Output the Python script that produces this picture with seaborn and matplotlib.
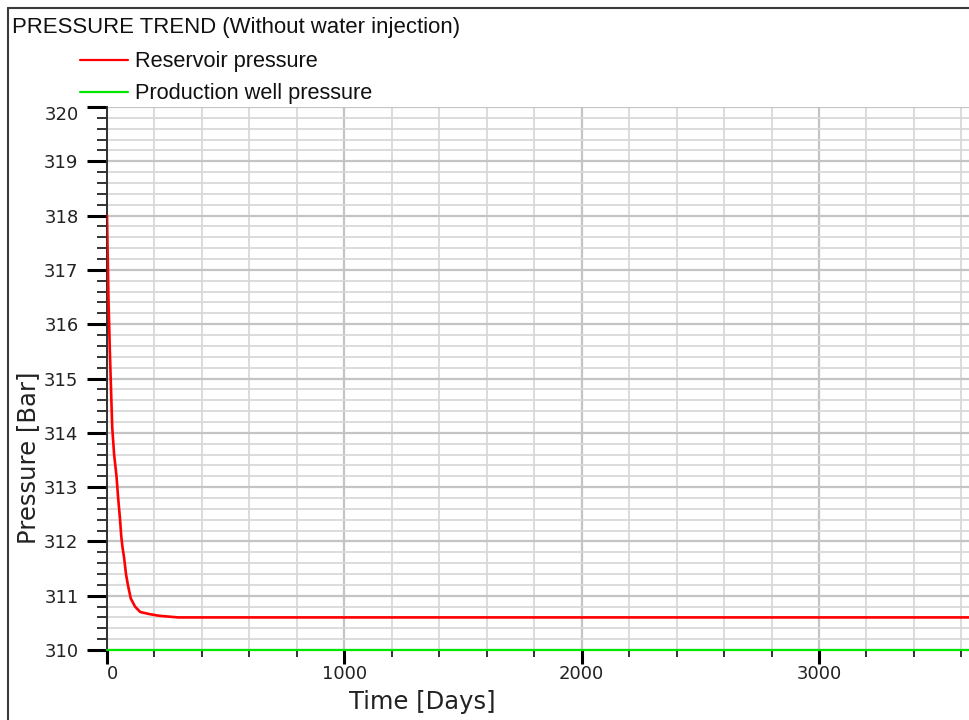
import matplotlib
matplotlib.use("Agg")
import matplotlib.pyplot as plt
import matplotlib.transforms as mtransforms
from matplotlib.lines import Line2D
from matplotlib.ticker import MultipleLocator
import seaborn as sns
import pandas as pd

# ---- data ----
res_days = [0, 6, 12, 17, 22, 30, 40, 47, 55, 60, 65, 72, 80, 88, 100, 118, 140, 180, 220, 300, 3650]
res_pressure = [318.0, 316.5, 315.5, 314.8, 314.1, 313.6, 313.2, 312.8, 312.4, 312.1, 311.9,
                311.7, 311.4, 311.2, 310.95, 310.8, 310.7, 310.66, 310.63, 310.6, 310.6]
prod_days = [0, 3650]
prod_pressure = [310.0, 310.0]

title = "PRESSURE TREND (Without water injection)"
series_names = ["Reservoir pressure", "Production well pressure"]
series_colors = ["#ff0000", "#00e600"]
x_ticks = [0, 1000, 2000, 3000]
y_ticks = [310, 311, 312, 313, 314, 315, 316, 317, 318, 319, 320]

df_res = pd.DataFrame({"Time": res_days, "Pressure": res_pressure})
df_prod = pd.DataFrame({"Time": prod_days, "Pressure": prod_pressure})

sns.set_style("white")
plt.rcParams["font.family"] = ["DejaVu Sans"]

W, H = 969, 720
fig = plt.figure(figsize=(W / 100, H / 100), dpi=100)
left, right, top, bottom = 107, 969, 107, 650
ax = fig.add_axes([left / W, 1 - bottom / H, (right - left) / W, (bottom - top) / H])

sns.lineplot(data=df_res, x="Time", y="Pressure", ax=ax, color=series_colors[0],
             linewidth=1.9, zorder=5, clip_on=True)
sns.lineplot(data=df_prod, x="Time", y="Pressure", ax=ax, color=series_colors[1],
             linewidth=1.6, zorder=6, clip_on=False)

ax.set_xlim(0, 3632)
ax.set_ylim(310, 320)
ax.set_xticks(x_ticks)
ax.set_yticks(y_ticks)
ax.xaxis.set_minor_locator(MultipleLocator(200))
ax.yaxis.set_minor_locator(MultipleLocator(0.2))

ax.grid(which="major", color="#c4c4c4", linewidth=1.6, zorder=0)
ax.grid(which="minor", color="#d9d9d9", linewidth=1.3, zorder=0)
ax.set_axisbelow(True)

for s in ["top", "right"]:
    ax.spines[s].set_visible(False)
for s in ["left", "bottom"]:
    ax.spines[s].set_color("#303030")
    ax.spines[s].set_linewidth(1.4)

ax.tick_params(axis="y", which="major", direction="out", length=14.5, width=2.2,
               color="black", labelsize=13, pad=6, labelcolor="#222222")
ax.tick_params(axis="y", which="minor", direction="out", length=7.2, width=1.4, color="#333333")
ax.tick_params(axis="x", which="major", direction="out", length=10, width=2.2,
               color="black", labelsize=13, pad=1, labelcolor="#222222")
ax.tick_params(axis="x", which="minor", direction="out", length=5, width=1.4, color="#333333")
ax.tick_params(left=True, bottom=True, which="both")

fig.canvas.draw()
for lab in ax.get_yticklabels():
    if lab.get_text() == "320":
        lab.set_transform(lab.get_transform() + mtransforms.ScaledTranslation(0, -0.06, fig.dpi_scale_trans))
for lab in ax.get_xticklabels():
    lab.set_transform(lab.get_transform() + mtransforms.ScaledTranslation(0.05 if lab.get_text() == "0" else 0, 0, fig.dpi_scale_trans))

ax.set_xlabel("Time [Days]", fontsize=17.5, color="#222222")
ax.set_ylabel("Pressure [Bar]", fontsize=17.5, color="#222222")
ax.xaxis.label.set_va("center")
ax.yaxis.label.set_va("center")
ax.xaxis.set_label_coords((422 - left) / (right - left), -(702 - bottom) / (bottom - top))
ax.yaxis.set_label_coords(-(107 - 28) / (right - left), (bottom - 458) / (bottom - top))

# title and legend (figure pixel coordinates)
def fx(px):
    return px / W

def fy(py):
    return 1 - py / H

fig.text(fx(12), fy(28), title, fontsize=15.9, family=["Liberation Sans"], va="center", ha="left", color="#111111")
for i, (name, col) in enumerate(zip(series_names, series_colors)):
    yy = 60 + i * 32
    fig.add_artist(Line2D([fx(80), fx(128)], [fy(yy), fy(yy)], color=col, linewidth=1.6))
    fig.text(fx(135), fy(yy + 1.5), name, fontsize=15.7, family=["Liberation Sans"], va="center", ha="left", color="#111111")

# outer frame
fig.add_artist(Line2D([fx(8), fx(8)], [fy(8), fy(720)], color="#3a3a3a", linewidth=1.5))
fig.add_artist(Line2D([fx(8), fx(969)], [fy(8), fy(8)], color="#3a3a3a", linewidth=1.5))

fig.savefig("out.png", dpi=100, facecolor="white")
